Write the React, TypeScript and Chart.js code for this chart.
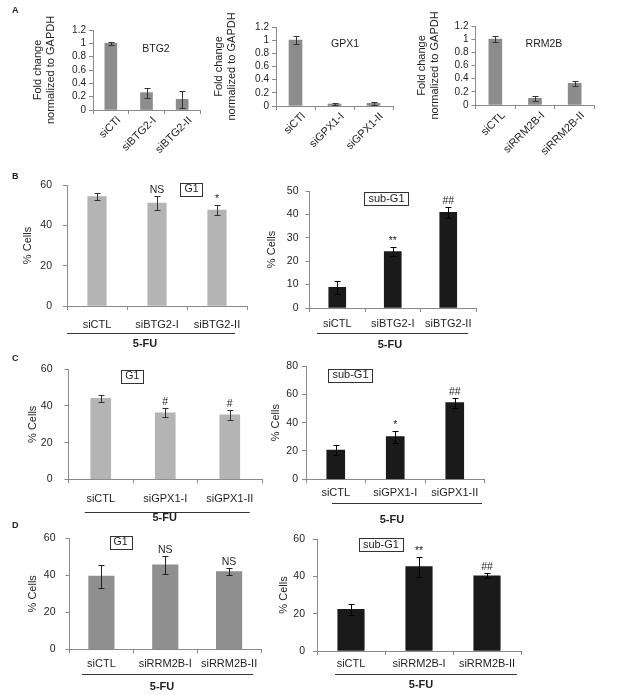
import React, { useEffect, useRef } from "react";
import { Chart, registerables } from "chart.js";

Chart.register(...registerables);

const W = 617;
const H = 695;
const FONT = "'Liberation Sans', Arial, Helvetica, sans-serif";
Chart.defaults.font.family = FONT;

// ---------------- Data ----------------
const BTG2_LABELS = ["siCTl", "siBTG2-I", "siBTG2-II"];
const BTG2_FOLD = [1.0, 0.26, 0.16];
const BTG2_FOLD_ERR = [0.025, 0.075, 0.13];

const GPX1_LABELS = ["siCTl", "siGPX1-I", "siGPX1-II"];
const GPX1_FOLD = [1.0, 0.03, 0.04];
const GPX1_FOLD_ERR = [0.06, 0.02, 0.02];

const RRM2B_LABELS = ["siCTL", "siRRM2B-I", "siRRM2B-II"];
const RRM2B_FOLD = [1.0, 0.1, 0.33];
const RRM2B_FOLD_ERR = [0.05, 0.04, 0.035];

const FOLD_TICKS = [0, 0.2, 0.4, 0.6, 0.8, 1, 1.2];

const B_LABELS = ["siCTL", "siBTG2-I", "siBTG2-II"];
const B_G1 = [54.2, 51, 47.6];
const B_G1_ERR = [1.6, 3.3, 2.3];
const B_G1_MARKS = ["", "NS", "*"];
const B_SUBG1 = [8.8, 24.1, 40.9];
const B_SUBG1_ERR = [2.9, 1.8, 2.4];
const B_SUBG1_MARKS = ["", "**", "##"];

const C_LABELS = ["siCTL", "siGPX1-I", "siGPX1-II"];
const C_G1 = [44.2, 36.3, 35.1];
const C_G1_ERR = [1.8, 2.4, 2.7];
const C_G1_MARKS = ["", "#", "#"];
const C_SUBG1 = [20.7, 30.1, 54.1];
const C_SUBG1_ERR = [3.5, 4.2, 3.5];
const C_SUBG1_MARKS = ["", "*", "##"];

const D_LABELS = ["siCTL", "siRRM2B-I", "siRRM2B-II"];
const D_G1 = [39.6, 45.6, 42];
const D_G1_ERR = [6.2, 4.8, 1.9];
const D_G1_MARKS = ["", "NS", "NS"];
const D_SUBG1 = [22.3, 45.2, 40.3];
const D_SUBG1_ERR = [2.9, 5.3, 1.3];
const D_SUBG1_MARKS = ["", "**", "##"];

const TICKS_0_60 = [0, 20, 40, 60];
const TICKS_0_50 = [0, 10, 20, 30, 40, 50];
const TICKS_0_80 = [0, 20, 40, 60, 80];

const FOLD_TITLE = ["Fold change", "normalized to GAPDH"];
const CELLS_TITLE = "% Cells";
const TREATMENT = "5-FU";

// ---------------- Styles ----------------
const AXIS = "#8a8a8a";
const TEXT = "#1e1e1e";
const BAR_A = "#8c8c8c";
const BAR_G1 = "#b4b4b4";
const BAR_G1_D = "#8f8f8f";
const BAR_SUB = "#1a1a1a";

type Panel = {
  labels: string[];
  values: number[];
  errs: number[];
  marks?: string[];
  ticks: number[];
  area: { l: number; t: number; r: number; b: number };
  barColor: string;
  errColor: string;
  barThickness: number;
  yTitle: string | string[];
  yTitleX: number;
  yTitleSize: number;
  yTickSize: number;
  yTickPad: number;
  xTickSize: number;
  xTickPad: number;
  xLabelOffset: number;
  xRot: number;
  tag: { text: string; at: number; y: number; box: boolean; size: number };
  underline?: { from: number; to: number; dy: number; labelAt: number; labelDy: number };
};

const fmt = (v: number) => String(Number(v.toFixed(1)));

const panels: Panel[] = [
  {
    labels: BTG2_LABELS, values: BTG2_FOLD, errs: BTG2_FOLD_ERR, ticks: FOLD_TICKS,
    area: { l: 93, t: 30, r: 200, b: 110 }, barColor: BAR_A, errColor: "#333", barThickness: 12,
    yTitle: FOLD_TITLE, yTitleX: 37.5, yTitleSize: 11, yTickSize: 10, yTickPad: 3,
    xTickSize: 11, xTickPad: 0, xLabelOffset: 8, xRot: 45,
    tag: { text: "BTG2", at: 1.265, y: 0.915, box: false, size: 10.5 },
  },
  {
    labels: GPX1_LABELS, values: GPX1_FOLD, errs: GPX1_FOLD_ERR, ticks: FOLD_TICKS,
    area: { l: 276, t: 27, r: 393, b: 106 }, barColor: BAR_A, errColor: "#333", barThickness: 13,
    yTitle: FOLD_TITLE, yTitleX: 219, yTitleSize: 11, yTickSize: 10, yTickPad: 3,
    xTickSize: 11, xTickPad: 0, xLabelOffset: 8, xRot: 45,
    tag: { text: "GPX1", at: 1.27, y: 0.945, box: false, size: 10.5 },
  },
  {
    labels: RRM2B_LABELS, values: RRM2B_FOLD, errs: RRM2B_FOLD_ERR, ticks: FOLD_TICKS,
    area: { l: 475.5, t: 26, r: 594.5, b: 105 }, barColor: BAR_A, errColor: "#333", barThickness: 13,
    yTitle: FOLD_TITLE, yTitleX: 421.5, yTitleSize: 11, yTickSize: 10, yTickPad: 3,
    xTickSize: 11, xTickPad: 0, xLabelOffset: 8, xRot: 45,
    tag: { text: "RRM2B", at: 1.225, y: 0.927, box: false, size: 10.5 },
  },
  {
    labels: B_LABELS, values: B_G1, errs: B_G1_ERR, marks: B_G1_MARKS, ticks: TICKS_0_60,
    area: { l: 67, t: 185, r: 247, b: 306 }, barColor: BAR_G1, errColor: "#333", barThickness: 18.5,
    yTitle: CELLS_TITLE, yTitleX: 27.5, yTitleSize: 11, yTickSize: 10.5, yTickPad: 11,
    xTickSize: 11, xTickPad: 8, xLabelOffset: 0, xRot: 0,
    tag: { text: "G1", at: 1.575, y: 58, box: true, size: 10.5 },
    underline: { from: -0.5, to: 2.3, dy: 27, labelAt: 0.8, labelDy: 38 },
  },
  {
    labels: B_LABELS, values: B_SUBG1, errs: B_SUBG1_ERR, marks: B_SUBG1_MARKS, ticks: TICKS_0_50,
    area: { l: 309.5, t: 191, r: 476, b: 308 }, barColor: BAR_SUB, errColor: "#000", barThickness: 17,
    yTitle: CELLS_TITLE, yTitleX: 272, yTitleSize: 11, yTickSize: 10.5, yTickPad: 7,
    xTickSize: 11, xTickPad: 5, xLabelOffset: 0, xRot: 0,
    tag: { text: "sub-G1", at: 0.887, y: 46.6, box: true, size: 11 },
    underline: { from: -0.365, to: 2.356, dy: 25, labelAt: 0.95, labelDy: 37 },
  },
  {
    labels: C_LABELS, values: C_G1, errs: C_G1_ERR, marks: C_G1_MARKS, ticks: TICKS_0_60,
    area: { l: 68.5, t: 369.3, r: 262, b: 479.3 }, barColor: BAR_G1, errColor: "#333", barThickness: 20,
    yTitle: CELLS_TITLE, yTitleX: 32.5, yTitleSize: 11, yTickSize: 10.5, yTickPad: 12,
    xTickSize: 11, xTickPad: 9, xLabelOffset: 0, xRot: 0,
    tag: { text: "G1", at: 0.489, y: 56.1, box: true, size: 10.5 },
    underline: { from: -0.247, to: 2.31, dy: 32.5, labelAt: 0.99, labelDy: 39 },
  },
  {
    labels: C_LABELS, values: C_SUBG1, errs: C_SUBG1_ERR, marks: C_SUBG1_MARKS, ticks: TICKS_0_80,
    area: { l: 306, t: 366, r: 484.5, b: 479.3 }, barColor: BAR_SUB, errColor: "#000", barThickness: 18,
    yTitle: CELLS_TITLE, yTitleX: 276, yTitleSize: 11, yTickSize: 10.5, yTickPad: 4,
    xTickSize: 11, xTickPad: 3, xLabelOffset: 0, xRot: 0,
    tag: { text: "sub-G1", at: 0.248, y: 73.6, box: true, size: 11 },
    underline: { from: -0.063, to: 2.458, dy: 24, labelAt: 0.945, labelDy: 41 },
  },
  {
    labels: D_LABELS, values: D_G1, errs: D_G1_ERR, marks: D_G1_MARKS, ticks: TICKS_0_60,
    area: { l: 69.5, t: 538.3, r: 261, b: 649.3 }, barColor: BAR_G1_D, errColor: "#222", barThickness: 25.5,
    yTitle: CELLS_TITLE, yTitleX: 32.5, yTitleSize: 11, yTickSize: 10.5, yTickPad: 10,
    xTickSize: 11, xTickPad: 4, xLabelOffset: 0, xRot: 0,
    tag: { text: "G1", at: 0.3, y: 57.7, box: true, size: 10.5 },
    underline: { from: -0.304, to: 2.376, dy: 25, labelAt: 0.95, labelDy: 38 },
  },
  {
    labels: D_LABELS, values: D_SUBG1, errs: D_SUBG1_ERR, marks: D_SUBG1_MARKS, ticks: TICKS_0_60,
    area: { l: 317, t: 539, r: 521, b: 651 }, barColor: BAR_SUB, errColor: "#000", barThickness: 26.5,
    yTitle: CELLS_TITLE, yTitleX: 284, yTitleSize: 11, yTickSize: 10.5, yTickPad: 8,
    xTickSize: 11, xTickPad: 2, xLabelOffset: 0, xRot: 0,
    tag: { text: "sub-G1", at: 0.44, y: 56.8, box: true, size: 11 },
    underline: { from: -0.235, to: 2.44, dy: 23, labelAt: 1.03, labelDy: 34 },
  },
];

function makePlugin(p: Panel) {
  return {
    id: "panelDecor",
    afterDatasetsDraw(chart: any) {
      const ctx = chart.ctx as CanvasRenderingContext2D;
      const ys = chart.scales.y;
      const meta = chart.getDatasetMeta(0);
      const cap = 3;
      ctx.save();
      ctx.strokeStyle = p.errColor;
      ctx.lineWidth = 1;
      meta.data.forEach((bar: any, i: number) => {
        const v = p.values[i];
        const e = p.errs[i];
        const x = Math.round(bar.x) + 0.5;
        const yTop = Math.round(ys.getPixelForValue(v + e)) + 0.5;
        const yBot = Math.round(ys.getPixelForValue(Math.max(0, v - e))) + 0.5;
        ctx.beginPath();
        ctx.moveTo(x, yBot);
        ctx.lineTo(x, yTop);
        ctx.moveTo(x - cap, yTop);
        ctx.lineTo(x + cap, yTop);
        ctx.moveTo(x - cap, yBot);
        ctx.lineTo(x + cap, yBot);
        ctx.stroke();
      });
      ctx.restore();
    },
    afterDraw(chart: any) {
      const ctx = chart.ctx as CanvasRenderingContext2D;
      const xs = chart.scales.x;
      const ys = chart.scales.y;
      const meta = chart.getDatasetMeta(0);
      ctx.save();
      ctx.fillStyle = TEXT;
      if (p.marks) {
        ctx.font = `10.5px ${FONT}`;
        ctx.textAlign = "center";
        ctx.textBaseline = "alphabetic";
        meta.data.forEach((bar: any, i: number) => {
          const m = p.marks![i];
          if (!m) return;
          const yTop = ys.getPixelForValue(p.values[i] + p.errs[i]);
          ctx.fillText(m, bar.x, yTop - 3);
        });
      }
      const t = p.tag;
      const tx = xs.getPixelForValue(t.at);
      const ty = ys.getPixelForValue(t.y);
      ctx.font = `${t.size}px ${FONT}`;
      ctx.textAlign = "center";
      ctx.textBaseline = "middle";
      ctx.fillText(t.text, tx, ty);
      if (t.box) {
        const w = ctx.measureText(t.text).width + 8;
        const h = 13;
        ctx.strokeStyle = "#333";
        ctx.lineWidth = 1;
        ctx.strokeRect(Math.round(tx - w / 2) + 0.5, Math.round(ty - h / 2) + 0.5, Math.round(w), h);
      }
      if (p.underline) {
        const u = p.underline;
        const y0 = ys.getPixelForValue(0);
        const ly = Math.round(y0 + u.dy) + 0.5;
        ctx.strokeStyle = "#333";
        ctx.lineWidth = 1;
        ctx.beginPath();
        ctx.moveTo(xs.getPixelForValue(u.from), ly);
        ctx.lineTo(xs.getPixelForValue(u.to), ly);
        ctx.stroke();
        ctx.font = `bold 11px ${FONT}`;
        ctx.textAlign = "center";
        ctx.textBaseline = "middle";
        ctx.fillText(TREATMENT, xs.getPixelForValue(u.labelAt), y0 + u.labelDy);
      }
      ctx.restore();
    },
  };
}

function PanelChart({ p }: { p: Panel }) {
  const ref = useRef<HTMLCanvasElement>(null);
  useEffect(() => {
    const canvas = ref.current;
    if (!canvas) return;
    const lh = p.yTitleSize * 1.2;
    const chart = new Chart(canvas, {
      type: "bar",
      data: {
        labels: p.labels,
        datasets: [
          {
            data: p.values,
            backgroundColor: p.barColor,
            borderWidth: 0,
            barThickness: p.barThickness,
          },
        ],
      },
      options: {
        responsive: false,
        animation: false,
        devicePixelRatio: 1,
        events: [],
        layout: {
          padding: { left: 0, top: p.area.t, right: W - p.area.r, bottom: 0 },
        },
        plugins: {
          legend: { display: false },
          tooltip: { enabled: false },
          title: { display: false },
        },
        scales: {
          x: {
            type: "category",
            offset: true,
            afterFit: (s: any) => {
              s.height = H - p.area.b;
            },
            grid: {
              display: true,
              drawOnChartArea: false,
              drawTicks: true,
              tickLength: 4,
              color: AXIS,
              offset: true,
            },
            border: { display: true, color: AXIS, width: 1 },
            ticks: {
              autoSkip: false,
              maxRotation: p.xRot,
              minRotation: p.xRot,
              padding: p.xTickPad,
              labelOffset: p.xLabelOffset,
              color: TEXT,
              font: { size: p.xTickSize, family: FONT },
            },
          },
          y: {
            type: "linear",
            min: p.ticks[0],
            max: p.ticks[p.ticks.length - 1],
            afterBuildTicks: (s: any) => {
              s.ticks = p.ticks.map((v) => ({ value: v }));
            },
            afterFit: (s: any) => {
              s.width = p.area.l;
            },
            grid: {
              display: true,
              drawOnChartArea: false,
              drawTicks: true,
              tickLength: 4,
              color: AXIS,
            },
            border: { display: true, color: AXIS, width: 1 },
            ticks: {
              autoSkip: false,
              padding: p.yTickPad,
              color: TEXT,
              font: { size: p.yTickSize, family: FONT },
              callback: (v: any) => fmt(Number(v)),
            },
            title: {
              display: true,
              text: p.yTitle,
              color: TEXT,
              font: { size: p.yTitleSize, family: FONT },
              padding: { top: p.yTitleX - lh / 2, bottom: 0 },
            },
          },
        },
      },
      plugins: [makePlugin(p)],
    } as any);
    return () => chart.destroy();
  }, [p]);
  return (
    <canvas
      ref={ref}
      width={W}
      height={H}
      style={{ position: "absolute", left: 0, top: 0, width: W, height: H }}
    />
  );
}

const LETTERS = [
  { text: "A", top: 5.8 },
  { text: "B", top: 172 },
  { text: "C", top: 354 },
  { text: "D", top: 520.5 },
];

export default function App() {
  return (
    <div
      style={{
        position: "fixed",
        left: 0,
        top: 0,
        width: W,
        height: H,
        background: "#ffffff",
        overflow: "hidden",
        fontFamily: FONT,
      }}
    >
      {panels.map((p, i) => (
        <PanelChart key={i} p={p} />
      ))}
      {LETTERS.map((l) => (
        <div
          key={l.text}
          style={{
            position: "absolute",
            left: 12,
            top: l.top,
            fontSize: 9,
            lineHeight: "9px",
            fontWeight: "bold",
            color: TEXT,
          }}
        >
          {l.text}
        </div>
      ))}
    </div>
  );
}
